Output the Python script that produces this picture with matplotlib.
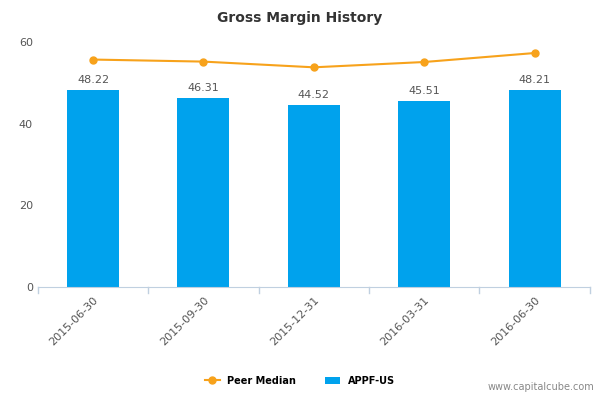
import matplotlib
matplotlib.use("Agg")
import matplotlib.pyplot as plt

categories = ["2015-06-30", "2015-09-30", "2015-12-31", "2016-03-31", "2016-06-30"]
appf = [48.22, 46.31, 44.52, 45.51, 48.21]
peer = [55.7, 55.2, 53.8, 55.1, 57.3]
yticks = [0, 20, 40, 60]

fig = plt.figure(figsize=(6, 4), dpi=100)
ax = fig.add_axes([0.063, 0.2825, 0.92, 0.6125])
x = list(range(len(categories)))
ax.bar(x, appf, width=0.47, color="#00a2ed", label="APPF-US", zorder=2)
for xi, v in zip(x, appf):
    ax.text(xi, v + 1.2, f"{v:.2f}", ha="center", va="bottom", fontsize=8, color="#555555")
ax.plot(x, peer, color="#f7a21b", marker="o", markersize=5, linewidth=1.5, label="Peer Median", zorder=3)
ax.set_xlim(-0.5, len(categories) - 0.5)
ax.set_ylim(0, 60)
ax.set_yticks(yticks)
ax.set_xticks(x)
ax.set_xticklabels(categories, rotation=45, ha="right", rotation_mode="anchor", fontsize=8, color="#555555")
ax.tick_params(axis="y", length=0, labelsize=8, labelcolor="#555555")
ax.tick_params(axis="x", length=0, pad=6)
for s in ["top", "right", "left"]:
    ax.spines[s].set_visible(False)
ax.spines["bottom"].set_color("#c0d0e0")
for b in [-0.5 + i for i in range(len(categories) + 1)]:
    ax.plot([b, b], [0, -1.5], color="#c0d0e0", lw=1, clip_on=False)
fig.text(0.5, 0.955, "Gross Margin History", ha="center", va="center", fontsize=10, fontweight="bold", color="#333333")
fig.legend(loc="center", bbox_to_anchor=(0.5, 0.048), ncol=2, frameon=False, fontsize=7,
           handlelength=1.5, columnspacing=3, prop={"weight": "bold", "size": 7})
fig.text(0.99, 0.02, "www.capitalcube.com", ha="right", va="bottom", fontsize=7, color="#888888")
fig.savefig("out.png", dpi=100)
